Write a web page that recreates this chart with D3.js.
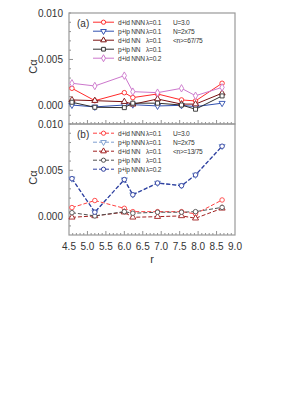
<!DOCTYPE html>
<html>
<head>
<meta charset="utf-8">
<script src="https://cdn.jsdelivr.net/npm/d3@7"></script>
<style>
  body { margin: 0; background: #fff; }
  text { font-family: "Liberation Sans", Arial, sans-serif; fill: #333; }
  .lt { font-size: 6.6px; letter-spacing: -0.25px; }
</style>
</head>
<body>
<svg id="chart" width="290" height="411"></svg>
<script>
// Data
var rValues = [4.58, 5.2, 6.0, 6.23, 6.9, 7.55, 7.93, 8.65]
var xTicks = [4.5, 5.0, 5.5, 6.0, 6.5, 7.0, 7.5, 8.0, 8.5, 9.0]
var yTicks = [0.000, 0.005, 0.010]

// panel (a), <n>=67/75
var aDNNN1 = [0.0019, 0.00057, 0.00143, 0.0009, 0.00129, 0.00065, 0.00054, 0.00244]
var aPNNN1 = [0.0001, -0.0001, 0.0001, 0.00014, 0.0, 0.00007, -0.00007, 0.0003]
var aDNN1 = [0.00065, 0.00057, 0.00046, 0.00018, 0.00075, 0.0002, 0.0002, 0.00137]
var aPNN1 = [0.0004, -0.00014, -0.00018, 0.0003, 0.0003, 0.0001, -0.00035, 0.00108]
var aDNNN2 = [0.00244, 0.00215, 0.00326, 0.00154, 0.00143, 0.0019, 0.0011, 0.002]

// panel (b), <n>=13/75
var bDNNN1 = [0.00098, 0.00174, 0.0009, 0.00054, 0.00054, 0.00054, 0.0003, 0.0018]
var bPNNN1 = [0.0041, 0.0005, 0.0040, 0.00238, 0.00363, 0.00336, 0.0045, 0.0076]
var bDNN1 = [-0.00007, 0.00008, 0.00048, -0.00007, 0.0, 0.00008, -0.00017, 0.0009]
var bPNN1 = [0.00043, 0.00008, 0.00054, 0.00037, 0.00048, 0.00048, 0.00054, 0.001]
var bPNNN2 = [0.0041, 0.00048, 0.0040, 0.00236, 0.00363, 0.00334, 0.0045, 0.0076]

var aLabels = ['d+id NNN', 'p+ip NNN', 'd+id NN', 'p+ip NN', 'd+id NNN']
var aLambda = ['\u03bb=0.1', '\u03bb=0.1', '\u03bb=0.1', '\u03bb=0.1', '\u03bb=0.2']
var aInfo = ['U=3.0', 'N=2x75', '<n>=67/75']
var bLabels = ['d+id NNN', 'p+ip NNN', 'd+id NN', 'p+ip NN', 'p+ip NNN']
var bLambda = ['\u03bb=0.1', '\u03bb=0.1', '\u03bb=0.1', '\u03bb=0.1', '\u03bb=0.2']
var bInfo = ['U=3.0', 'N=2x75', '<n>=13/75']

var svg = d3.select('#chart')

var x = d3.scaleLinear().domain([4.5, 9.0]).range([69, 235])

var panels = [
  {
    tag: '(a)', top: 13, bottom: 124, ymin: -0.00194, dash: null,
    series: [aDNNN1, aPNNN1, aDNN1, aPNN1, aDNNN2],
    colors: ['#ff2a2a', '#3050b0', '#7a1010', '#303030', '#cc77cc'],
    symbols: [d3.symbolCircle, d3.symbolTriangle, d3.symbolTriangle, d3.symbolSquare, d3.symbolDiamond],
    flip: [false, true, false, false, false],
    labels: aLabels, lambda: aLambda, info: aInfo
  },
  {
    tag: '(b)', top: 124, bottom: 235, ymin: -0.00198, dash: '4,2',
    series: [bDNNN1, bPNNN1, bDNN1, bPNN1, bPNNN2],
    colors: ['#ff4040', '#7f9fd0', '#a02020', '#505050', '#3040a0'],
    symbols: [d3.symbolCircle, d3.symbolTriangle, d3.symbolTriangle, d3.symbolCircle, d3.symbolCircle],
    flip: [false, true, false, false, false],
    labels: bLabels, lambda: bLambda, info: bInfo
  }
]

panels.forEach(function (p, pi) {
  var y = d3.scaleLinear().domain([p.ymin, 0.010]).range([p.bottom, p.top])
  var g = svg.append('g')

  // minor ticks, inward
  g.selectAll('.ym').data(d3.range(-1, 11).map(function (k) { return k * 0.001 }))
    .enter().append('line')
    .attr('x1', x(4.5)).attr('x2', function (d) { return (Math.abs(d) < 1e-9 || Math.abs(d - 0.005) < 1e-9) ? x(4.5) + 4 : x(4.5) + 2 })
    .attr('y1', function (d) { return y(d) }).attr('y2', function (d) { return y(d) })
    .attr('stroke', '#777').attr('stroke-width', 0.8)
  g.selectAll('.xm').data(d3.range(46, 90).map(function (k) { return k / 10 }))
    .enter().append('line')
    .attr('x1', function (d) { return x(d) }).attr('x2', function (d) { return x(d) })
    .attr('y1', p.bottom).attr('y2', function (d) { return Math.abs(d * 2 - Math.round(d * 2)) < 1e-6 ? p.bottom - 4 : p.bottom - 2 })
    .attr('stroke', '#777').attr('stroke-width', 0.8)

  // frame
  g.append('rect')
    .attr('x', x(4.5)).attr('y', p.top)
    .attr('width', x(9.0) - x(4.5)).attr('height', p.bottom - p.top)
    .attr('fill', 'none').attr('stroke', '#999').attr('stroke-width', 1.2)

  // y tick labels
  g.selectAll('.yl').data(yTicks).enter().append('text')
    .attr('x', 63).attr('y', function (d) { return y(d) })
    .attr('dy', '0.35em').attr('text-anchor', 'end')
    .style('font-size', '10px')
    .text(d3.format('.3f'))

  g.append('text')
    .attr('transform', 'translate(37,' + ((p.top + p.bottom) / 2 - 2) + ') rotate(-90)')
    .attr('text-anchor', 'middle').style('font-size', '11px')
    .text('C\u03b1')

  // lines + markers
  var line = d3.line().x(function (d, i) { return x(rValues[i]) }).y(function (d) { return y(d) })
  p.series.forEach(function (s, si) {
    g.append('path').datum(s).attr('d', line)
      .attr('fill', 'none').attr('stroke', p.colors[si]).attr('stroke-width', si === 4 && pi === 1 ? 1.3 : 1)
      .attr('stroke-dasharray', p.dash)
    g.selectAll('.m' + si).data(s).enter().append('path')
      .attr('d', d3.symbol().type(p.symbols[si]).size(16))
      .attr('transform', function (d, i) {
        return 'translate(' + x(rValues[i]) + ',' + y(d) + ')' + (p.flip[si] ? ' rotate(180)' : '')
      })
      .attr('fill', '#fff').attr('stroke', p.colors[si]).attr('stroke-width', 0.9)
  })

  // legend
  g.append('text').attr('x', 77).attr('y', p.top + 10).attr('dy', '0.35em')
    .style('font-size', '10px').text(p.tag)
  var leg = g.selectAll('.lg').data(p.labels).enter().append('g')
    .attr('transform', function (d, i) { return 'translate(0,' + (p.top + 9.2 + i * 9) + ')' })
  leg.append('line').attr('x1', 93).attr('x2', 114).attr('y1', 0).attr('y2', 0)
    .attr('stroke', function (d, i) { return p.colors[i] }).attr('stroke-dasharray', p.dash)
  leg.append('path')
    .attr('d', function (d, i) { return d3.symbol().type(p.symbols[i]).size(14)() })
    .attr('transform', function (d, i) { return 'translate(103.5,0)' + (p.flip[i] ? ' rotate(180)' : '') })
    .attr('fill', '#fff').attr('stroke', function (d, i) { return p.colors[i] })
  leg.append('text').attr('class', 'lt').attr('x', 118).attr('dy', '0.35em')
    .text(function (d) { return d })
  leg.append('text').attr('class', 'lt').attr('x', 146).attr('dy', '0.35em')
    .text(function (d, i) { return p.lambda[i] })
  g.selectAll('.inf').data(p.info).enter().append('text')
    .attr('class', 'lt')
    .attr('x', 173).attr('y', function (d, i) { return p.top + 9.2 + i * 9 })
    .attr('dy', '0.35em')
    .text(function (d) { return d })
})

// x axis labels
svg.selectAll('.xl').data(xTicks).enter().append('text')
  .attr('x', function (d) { return x(d) }).attr('y', 246)
  .attr('dy', '0.35em').attr('text-anchor', 'middle')
  .style('font-size', '10px')
  .text(d3.format('.1f'))
svg.append('text').attr('x', 152).attr('y', 259).attr('dy', '0.35em')
  .attr('text-anchor', 'middle').style('font-size', '11px').text('r')
</script>
</body>
</html>
